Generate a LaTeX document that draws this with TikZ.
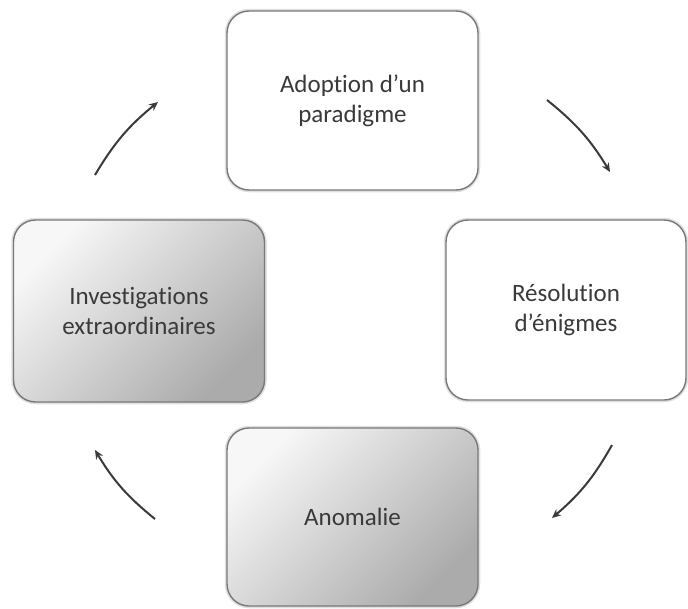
\documentclass[tikz,border=0pt]{standalone}
\usepackage{fontspec}
\setmainfont{Carlito}[Ligatures=NoCommon]
\usetikzlibrary{arrows.meta}

\definecolor{txtgray}{RGB}{58,58,58}
\definecolor{linegray}{RGB}{120,120,120}

\begin{document}
\begin{tikzpicture}[x=1pt,y=1pt]
\tikzstyle{every node}+=[inner sep=0pt]
\tikzstyle{stagebox}=[rectangle, rounded corners=22pt, draw=linegray, line width=1.4pt,
  preaction={draw=black!12, line width=4.5pt}, align=center, text=txtgray,
  font=\fontsize{25}{30}\selectfont]
\tikzstyle{whitebox}=[stagebox, fill=white]
\tikzstyle{graybox}=[stagebox, top color=black!3, bottom color=black!33, shading angle=45]
\tikzstyle{cyclearrow}=[draw=txtgray, line width=2pt, -{Stealth[length=9pt,width=8pt]}]
\useasboundingbox (0,0) rectangle (688,-608);
% the four stages
\node [whitebox, minimum width=251pt, minimum height=179pt] (adopt) at (352.5,-100.5) {Adoption d'un\\paradigme};
\node [whitebox, minimum width=240pt, minimum height=180pt] (resol) at (566,-310) {Résolution\\d'énigmes};
\node [graybox, minimum width=251pt, minimum height=178pt] (anom) at (352.5,-517) {Anomalie};
\node [graybox, minimum width=251pt, minimum height=182pt] (invest) at (139,-311) {Investigations\\extraordinaires};
% arrow ends
\coordinate (tlA) at (95,-175);
\coordinate (tlB) at (158,-102);
\coordinate (trA) at (547,-100);
\coordinate (trB) at (610,-172);
\coordinate (brA) at (612,-445);
\coordinate (brB) at (552,-518);
\coordinate (blA) at (155,-519);
\coordinate (blB) at (95,-450);
% cycle arrows
\draw [cyclearrow] (tlA) to [bend left=10] (tlB);
\draw [cyclearrow] (trA) to [bend left=10] (trB);
\draw [cyclearrow] (brA) to [bend left=10] (brB);
\draw [cyclearrow] (blA) to [bend left=10] (blB);
\end{tikzpicture}
\end{document}
